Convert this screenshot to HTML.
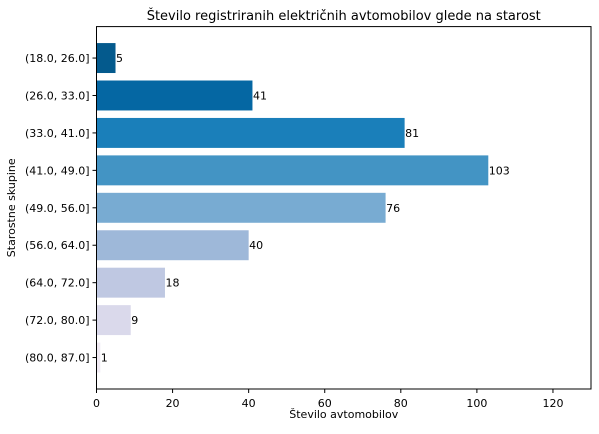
<!DOCTYPE html>
<html><head><meta charset="utf-8"><style>
body{margin:0;background:#fff;}
svg{font-family:"DejaVu Sans","Liberation Sans",sans-serif;}
</style></head><body>
<svg width="599" height="429" viewBox="0 0 599 429">
<g id="g"></g>
</svg>
<script>
const categories=["(18.0, 26.0]","(26.0, 33.0]","(33.0, 41.0]","(41.0, 49.0]","(49.0, 56.0]","(56.0, 64.0]","(64.0, 72.0]","(72.0, 80.0]","(80.0, 87.0]"];
const values=[5,41,81,103,76,40,18,9,1];
const xTicks=[0,20,40,60,80,100,120];
const colors=["#045a8d","#0567a3","#1a7fba","#4394c4","#78abd2","#9eb8d9","#bfc8e2","#dad9eb","#f1ebf4"];
const L=96.5,R=591,T=26.6,B=389,xmax=130;
const x=v=>L+v/xmax*(R-L);
const step=(B-T)/9.68;
const y=i=>T+(0.84+i)*step;
const NS="http://www.w3.org/2000/svg",g=document.getElementById('g');
function mk(t,a,txt){const e=document.createElementNS(NS,t);for(const k in a)e.setAttribute(k,a[k]);if(txt!=null)e.textContent=txt;g.appendChild(e);return e;}
values.forEach((v,i)=>{
 const r=mk('rect',{x:x(0),y:y(i)-0.4*step,width:x(v)-x(0),height:0.8*step,fill:colors[i]});
 
 
 const t=mk('text',{x:x(v)+0.5,y:y(i)+4,'font-size':11},String(v));
 
 
 mk('line',{x1:L-4,x2:L,y1:y(i),y2:y(i),stroke:'#000'});
 const c=mk('text',{x:L-7,y:y(i)+4,'font-size':11,'text-anchor':'end'},categories[i]);
 
 
});
xTicks.forEach(v=>{
 mk('line',{x1:x(v),x2:x(v),y1:B,y2:B+4,stroke:'#000'});
 const t=mk('text',{x:x(v),y:B+18,'font-size':11,'text-anchor':'middle'},String(v));
 
 
});
const f=mk('rect',{x:L,y:T,width:R-L,height:B-T,fill:'none',stroke:'#000','stroke-width':1});


const ti=mk('text',{x:(L+R)/2,y:20,'font-size':13,'text-anchor':'middle'},'Število registriranih električnih avtomobilov glede na starost');


const xl=mk('text',{x:(L+R)/2,y:418,'font-size':11,'text-anchor':'middle'},'Število avtomobilov');


const yl=mk('text',{x:15,y:(T+B)/2,'font-size':11,'text-anchor':'middle',transform:'rotate(-90 15 '+((T+B)/2)+')'},'Starostne skupine');


</script>
</body></html>
